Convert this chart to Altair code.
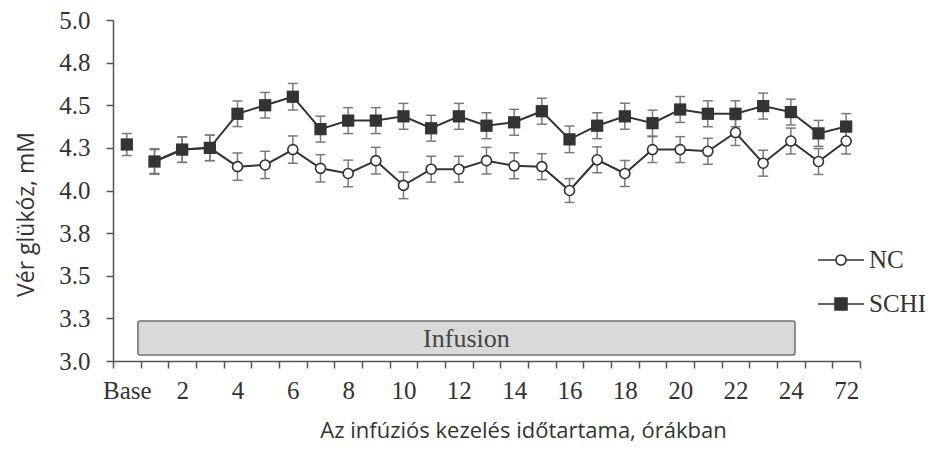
import altair as alt
import pandas as pd

# ---------------- data ----------------
CATEGORIES = ["Base", "1", "2", "3", "4", "5", "6", "7", "8", "9", "10", "11", "12",
              "13", "14", "15", "16", "17", "18", "19", "20", "21", "22", "23", "24",
              "48", "72"]
CATEGORY_LABELS = ["Base", "", "2", "", "4", "", "6", "", "8", "", "10", "", "12",
                   "", "14", "", "16", "", "18", "", "20", "", "22", "", "24",
                   "", "72"]

NC_VALUES = [None, 4.17, 4.24, 4.25, 4.14, 4.15, 4.24, 4.13, 4.10, 4.175, 4.03, 4.125, 4.125,
             4.175, 4.145, 4.14, 4.00, 4.18, 4.10, 4.24, 4.24, 4.23, 4.34, 4.16, 4.29,
             4.17, 4.29]
NC_ERR = [None, 0.075, 0.075, 0.075, 0.08, 0.08, 0.08, 0.08, 0.078, 0.078, 0.078, 0.076, 0.076,
          0.078, 0.076, 0.076, 0.07, 0.076, 0.076, 0.076, 0.076, 0.076, 0.076, 0.076, 0.076,
          0.076, 0.076]
SCHI_VALUES = [4.27, 4.17, 4.24, 4.25, 4.45, 4.50, 4.55, 4.36, 4.41, 4.41, 4.435, 4.365, 4.435,
               4.38, 4.40, 4.465, 4.30, 4.38, 4.435, 4.395, 4.475, 4.45, 4.45, 4.495, 4.46,
               4.335, 4.375]
SCHI_ERR = [0.065, 0.07, 0.075, 0.075, 0.075, 0.075, 0.078, 0.076, 0.076, 0.076, 0.076, 0.076, 0.076,
            0.076, 0.076, 0.076, 0.078, 0.076, 0.076, 0.076, 0.076, 0.076, 0.076, 0.076, 0.076,
            0.076, 0.076]

SERIES = ["NC", "SCHI"]
Y_TICKS = [3.0, 3.25, 3.5, 3.75, 4.0, 4.25, 4.5, 4.75, 5.0]

INFUSION_LABEL = ["Infusion"]
INFUSION_START = [0.4]
INFUSION_END = [24.15]
INFUSION_LOW = [3.035]
INFUSION_HIGH = [3.235]

# ---------------- tables ----------------
rows = []
for name, vals, errs in (("NC", NC_VALUES, NC_ERR), ("SCHI", SCHI_VALUES, SCHI_ERR)):
    for i, (v, e) in enumerate(zip(vals, errs)):
        if v is None:
            continue
        rows.append({"idx": i, "cat": CATEGORIES[i], "series": name, "value": v, "err": e})
df = pd.DataFrame(rows)

inf_df = pd.DataFrame({"label": INFUSION_LABEL, "x0": INFUSION_START, "x1": INFUSION_END,
                       "y0": INFUSION_LOW, "y1": INFUSION_HIGH})

# ---------------- layout ----------------
W, H = 747, 341
N = len(CATEGORIES)
STEP = W / N
DARK = "#333333"
SERIF = "Liberation Serif"
SANS = "Open Sans"

label_array = "[" + ",".join('"%s"' % s for s in CATEGORY_LABELS) + "]"
label_expr = f"({label_array})[datum.value + 0.5] || ''"

x_scale = alt.Scale(domain=[-0.5, N - 0.5], nice=False, zero=False)
y_scale = alt.Scale(domain=[3.0, 5.0], nice=False, zero=False)

x_axis = alt.Axis(
    values=[i - 0.5 for i in range(N + 1)],
    labelExpr=label_expr,
    labelOffset=STEP / 2,
    labelFlush=False,
    labelOverlap=False,
    labelFont=SERIF, labelFontSize=25, labelColor=DARK, labelPadding=10,
    title="Az infúziós kezelés időtartama, órákban",
    titleFont=SANS, titleFontSize=22, titleFontWeight="normal", titleColor=DARK,
    titleX=410, titleY=76, titleAlign="center", titleBaseline="alphabetic",
    grid=False,
)
y_axis = alt.Axis(
    values=Y_TICKS, format=".1f",
    labelFont=SERIF, labelFontSize=25, labelColor=DARK, labelPadding=16,
    title="Vér glükóz, mM",
    titleFont=SANS, titleFontSize=23, titleFontWeight="normal", titleColor=DARK,
    titleX=-80, titleY=194, titleAlign="center", titleBaseline="alphabetic", titleAngle=270,
    grid=False,
)

X = alt.X("idx:Q", scale=x_scale, axis=x_axis)
Y = alt.Y("value:Q", scale=y_scale, axis=y_axis)

base = alt.Chart(df)

infusion_rect = alt.Chart(inf_df).mark_rect(
    fill="#d9d9d9", stroke="#707070", strokeWidth=1.5, cornerRadius=2
).encode(
    x=alt.X("x0:Q", scale=x_scale, axis=x_axis),
    x2="x1:Q",
    y=alt.Y("y0:Q", scale=y_scale, axis=y_axis),
    y2="y1:Q",
)
infusion_text = alt.Chart(inf_df).transform_calculate(
    xm="(datum.x0 + datum.x1) / 2", ym="(datum.y0 + datum.y1) / 2"
).mark_text(font=SERIF, fontSize=26, color="#444444", baseline="middle", align="center", dy=1).encode(
    x=alt.X("xm:Q", scale=x_scale, axis=x_axis),
    y=alt.Y("ym:Q", scale=y_scale, axis=y_axis),
    text="label:N",
)

err_base = base.transform_calculate(lo="datum.value - datum.err", hi="datum.value + datum.err")
err_rule = err_base.mark_rule(color="#7a7a7a", strokeWidth=1.5).encode(
    x=X, y=alt.Y("lo:Q", scale=y_scale, axis=y_axis), y2="hi:Q"
)
err_cap_lo = err_base.mark_tick(color="#7a7a7a", thickness=1.5, size=10, orient="horizontal", opacity=1).encode(
    x=X, y=alt.Y("lo:Q", scale=y_scale, axis=y_axis)
)
err_cap_hi = err_base.mark_tick(color="#7a7a7a", thickness=1.5, size=10, orient="horizontal", opacity=1).encode(
    x=X, y=alt.Y("hi:Q", scale=y_scale, axis=y_axis)
)

lines = base.transform_filter("datum.idx >= 1").mark_line(color=DARK, strokeWidth=2).encode(
    x=X, y=Y, detail="series:N"
)

nc_points = base.transform_filter("datum.series == 'NC'").mark_circle(
    fill="white", stroke=DARK, strokeWidth=1.6, size=100, opacity=1
).encode(x=X, y=Y)
schi_points = base.transform_filter("datum.series == 'SCHI'").mark_square(
    color=DARK, size=150, opacity=1
).encode(x=X, y=Y)

# legend symbols: line segment with marker (unit space -1..1)
NC_PATH = "M-1,0H-0.22M0.22,0H1M0.22,0A0.22,0.22,0,1,1,-0.22,0A0.22,0.22,0,1,1,0.22,0Z"
SCHI_PATH = "M-1,0H-0.26M0.26,0H1M-0.26,-0.26H0.26V0.26H-0.26Z"

leg = alt.Legend(
    title=None, orient="none", legendX=704, legendY=216,
    symbolSize=2116, symbolStrokeWidth=1.6, symbolStrokeColor=DARK, symbolOpacity=1,
    labelFont=SERIF, labelFontSize=25, labelColor=DARK, labelOffset=4,
    rowPadding=7, padding=0,
)
legend_layer = base.transform_filter("false").mark_point(strokeWidth=1.6, opacity=1).encode(
    x=X, y=Y,
    shape=alt.Shape("series:N", scale=alt.Scale(domain=SERIES, range=[NC_PATH, SCHI_PATH]), legend=leg),
    fill=alt.Fill("series:N", scale=alt.Scale(domain=SERIES, range=["white", DARK]), legend=leg),
    stroke=alt.Stroke("series:N", scale=alt.Scale(domain=SERIES, range=[DARK, DARK]), legend=leg),
)

chart = alt.layer(
    infusion_rect, infusion_text, err_rule, err_cap_lo, err_cap_hi, lines, nc_points, schi_points, legend_layer
).properties(
    width=W, height=H,
    padding={"left": 105, "top": 12, "right": 65, "bottom": 83},
    autosize="none",
).configure_view(stroke=None).configure_axis(
    domainColor="#555555", domainWidth=1.5, tickColor="#555555", tickWidth=1.5, tickSize=7,
)

chart.save("out.html", embed_options={"renderer": "svg", "actions": False})
